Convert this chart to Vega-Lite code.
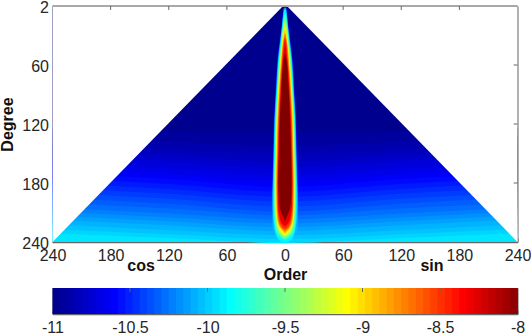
{"$schema":"https://vega.github.io/schema/vega-lite/v6.json","padding":{"left":-1.5,"top":-1,"right":0,"bottom":0},"background":"white","bounds":"flush","spacing":46,
"config":{"view":{"stroke":"#666666","strokeWidth":1},"font":"Liberation Sans","axis":{"grid":false,"labelFont":"Liberation Sans","labelFontSize":16,"labelColor":"#262626","labelOverlap":false,"labelBound":false,"labelFlush":false,"tickColor":"#666666","domainColor":"#666666","tickSize":-4,"tickWidth":1,"domainWidth":1.5,"zindex":1,"titleFont":"Liberation Sans","titleFontSize":16,"titleFontWeight":"bold","titleColor":"#111111"}},
"vconcat":[
{"width":465,"height":236,
"layer":[
{"data":{"values":[
{"v":-11,"m":-240,"d":0},{"v":-11,"m":240,"d":0},
{"v":-10.95,"m":-240,"d":124},{"v":-10.95,"m":-120,"d":128},{"v":-10.95,"m":0,"d":128},{"v":-10.95,"m":120,"d":128},{"v":-10.95,"m":240,"d":124},
{"v":-10.9,"m":-240,"d":132},{"v":-10.9,"m":-120,"d":138},{"v":-10.9,"m":0,"d":142},{"v":-10.9,"m":120,"d":138},{"v":-10.9,"m":240,"d":132},
{"v":-10.85,"m":-240,"d":140},{"v":-10.85,"m":-120,"d":146},{"v":-10.85,"m":0,"d":150},{"v":-10.85,"m":120,"d":146},{"v":-10.85,"m":240,"d":140},
{"v":-10.8,"m":-240,"d":146},{"v":-10.8,"m":-120,"d":152},{"v":-10.8,"m":0,"d":158},{"v":-10.8,"m":120,"d":152},{"v":-10.8,"m":240,"d":146},
{"v":-10.75,"m":-240,"d":152},{"v":-10.75,"m":-120,"d":158},{"v":-10.75,"m":0,"d":165},{"v":-10.75,"m":120,"d":158},{"v":-10.75,"m":240,"d":152},
{"v":-10.7,"m":-240,"d":159},{"v":-10.7,"m":-120,"d":165},{"v":-10.7,"m":0,"d":172},{"v":-10.7,"m":120,"d":165},{"v":-10.7,"m":240,"d":159},
{"v":-10.65,"m":-240,"d":165},{"v":-10.65,"m":-120,"d":171},{"v":-10.65,"m":0,"d":178},{"v":-10.65,"m":120,"d":171},{"v":-10.65,"m":240,"d":165},
{"v":-10.6,"m":-240,"d":170},{"v":-10.6,"m":-120,"d":176},{"v":-10.6,"m":0,"d":184},{"v":-10.6,"m":120,"d":176},{"v":-10.6,"m":240,"d":170},
{"v":-10.55,"m":-240,"d":175},{"v":-10.55,"m":-120,"d":181},{"v":-10.55,"m":0,"d":189},{"v":-10.55,"m":120,"d":181},{"v":-10.55,"m":240,"d":175},
{"v":-10.5,"m":-240,"d":180},{"v":-10.5,"m":-120,"d":186},{"v":-10.5,"m":0,"d":194},{"v":-10.5,"m":120,"d":186},{"v":-10.5,"m":240,"d":180},
{"v":-10.45,"m":-240,"d":185},{"v":-10.45,"m":-120,"d":191},{"v":-10.45,"m":0,"d":199},{"v":-10.45,"m":120,"d":191},{"v":-10.45,"m":240,"d":185},
{"v":-10.4,"m":-240,"d":190},{"v":-10.4,"m":-120,"d":196},{"v":-10.4,"m":0,"d":204},{"v":-10.4,"m":120,"d":196},{"v":-10.4,"m":240,"d":190},
{"v":-10.35,"m":-240,"d":195},{"v":-10.35,"m":-120,"d":201},{"v":-10.35,"m":0,"d":209},{"v":-10.35,"m":120,"d":201},{"v":-10.35,"m":240,"d":195},
{"v":-10.3,"m":-240,"d":200},{"v":-10.3,"m":-120,"d":206},{"v":-10.3,"m":0,"d":213},{"v":-10.3,"m":120,"d":206},{"v":-10.3,"m":240,"d":200},
{"v":-10.25,"m":-240,"d":205},{"v":-10.25,"m":-120,"d":211},{"v":-10.25,"m":0,"d":217},{"v":-10.25,"m":120,"d":211},{"v":-10.25,"m":240,"d":205},
{"v":-10.2,"m":-240,"d":209},{"v":-10.2,"m":-120,"d":215},{"v":-10.2,"m":0,"d":221},{"v":-10.2,"m":120,"d":215},{"v":-10.2,"m":240,"d":209},
{"v":-10.15,"m":-240,"d":213},{"v":-10.15,"m":-120,"d":219},{"v":-10.15,"m":0,"d":225},{"v":-10.15,"m":120,"d":219},{"v":-10.15,"m":240,"d":213},
{"v":-10.1,"m":-240,"d":217},{"v":-10.1,"m":-120,"d":223},{"v":-10.1,"m":0,"d":229},{"v":-10.1,"m":120,"d":223},{"v":-10.1,"m":240,"d":217},
{"v":-10.05,"m":-240,"d":222},{"v":-10.05,"m":-120,"d":228},{"v":-10.05,"m":0,"d":233},{"v":-10.05,"m":120,"d":228},{"v":-10.05,"m":240,"d":222},
{"v":-10,"m":-240,"d":227},{"v":-10,"m":-120,"d":232},{"v":-10,"m":0,"d":237},{"v":-10,"m":120,"d":232},{"v":-10,"m":240,"d":227},
{"v":-9.95,"m":-240,"d":231},{"v":-9.95,"m":-120,"d":236},{"v":-9.95,"m":0,"d":241},{"v":-9.95,"m":120,"d":236},{"v":-9.95,"m":240,"d":231}
]},
"mark":{"type":"area","orient":"vertical","interpolate":"monotone"},
"encoding":{
"x":{"field":"m","type":"quantitative","scale":{"domain":[-240,240],"nice":false,"zero":false},"axis":{"values":[-240,-180,-120,-60,0,60,120,180,240],"labelExpr":"abs(datum.value)","labelPadding":9,"title":"Order","titleY":32,"titleBaseline":"middle"}},
"y":{"field":"d","type":"quantitative","stack":null,"scale":{"domain":[0,240],"reverse":true,"nice":false,"zero":false},"axis":{"values":[0,60,120,180,240],"labelExpr":"datum.value==0?'2':datum.label","labelPadding":8,"labelOffset":1.5,"title":"Degree","titleX":-45,"titleBaseline":"middle"}},
"y2":{"datum":240},
"detail":{"field":"v"},
"color":{"field":"v","type":"quantitative","legend":null,"scale":{"domain":[-11,-10.625,-9.875,-9.125,-8.375,-8],"range":["#00008f","#0000ff","#00ffff","#ffff00","#ff0000","#800000"],"clamp":true,"interpolate":"rgb"}}
}},
{"data":{"values":[
{"v":-10.6,"d":2,"l":-1.5,"r":1.5},{"v":-10.6,"d":10,"l":-2.5,"r":2.5},{"v":-10.6,"d":20,"l":-3.5,"r":3.5},{"v":-10.6,"d":35,"l":-5.5,"r":5.5},{"v":-10.6,"d":55,"l":-8,"r":8},{"v":-10.6,"d":80,"l":-9.5,"r":9.5},{"v":-10.6,"d":115,"l":-11.5,"r":11.5},{"v":-10.6,"d":150,"l":-12.5,"r":12.5},{"v":-10.6,"d":172,"l":-13.2,"r":13.2},
{"v":-10.3,"d":2,"l":-1.2,"r":1.2},{"v":-10.3,"d":10,"l":-2.2,"r":2.2},{"v":-10.3,"d":20,"l":-3.2,"r":3.2},{"v":-10.3,"d":35,"l":-5.1,"r":5.1},{"v":-10.3,"d":55,"l":-7.5,"r":7.5},{"v":-10.3,"d":80,"l":-9,"r":9},{"v":-10.3,"d":115,"l":-11,"r":11},{"v":-10.3,"d":150,"l":-12,"r":12},{"v":-10.3,"d":180,"l":-12.9,"r":12.9},{"v":-10.3,"d":200,"l":-13.5,"r":13.5},{"v":-10.3,"d":208,"l":-13.5,"r":13.5},
{"v":-10.1,"d":2,"l":-1,"r":1},{"v":-10.1,"d":10,"l":-2,"r":2},{"v":-10.1,"d":20,"l":-3,"r":3},{"v":-10.1,"d":35,"l":-4.8,"r":4.8},{"v":-10.1,"d":55,"l":-7.2,"r":7.2},{"v":-10.1,"d":80,"l":-8.7,"r":8.7},{"v":-10.1,"d":115,"l":-10.7,"r":10.7},{"v":-10.1,"d":150,"l":-11.6,"r":11.6},{"v":-10.1,"d":180,"l":-12.5,"r":12.5},{"v":-10.1,"d":200,"l":-13,"r":13},{"v":-10.1,"d":215,"l":-13,"r":13},{"v":-10.1,"d":230,"l":-12.5,"r":12.5},{"v":-10.1,"d":233,"l":-12,"r":12},
{"v":-9.9,"d":3,"l":-0.7,"r":0.7},{"v":-9.9,"d":10,"l":-1.7,"r":1.7},{"v":-9.9,"d":20,"l":-2.7,"r":2.7},{"v":-9.9,"d":35,"l":-4.4,"r":4.4},{"v":-9.9,"d":55,"l":-6.7,"r":6.7},{"v":-9.9,"d":80,"l":-8.3,"r":8.3},{"v":-9.9,"d":115,"l":-10.3,"r":10.3},{"v":-9.9,"d":150,"l":-11.2,"r":11.2},{"v":-9.9,"d":180,"l":-12,"r":12},{"v":-9.9,"d":200,"l":-12.2,"r":12.2},{"v":-9.9,"d":215,"l":-12,"r":12},{"v":-9.9,"d":225,"l":-11,"r":11},{"v":-9.9,"d":232,"l":-9.5,"r":9.5},{"v":-9.9,"d":238,"l":-6,"r":6},{"v":-9.9,"d":240,"l":-3,"r":3},
{"v":-9.7,"d":8,"l":0,"r":0},{"v":-9.7,"d":10,"l":-1,"r":1},{"v":-9.7,"d":20,"l":-2.3,"r":2.3},{"v":-9.7,"d":35,"l":-4,"r":4},{"v":-9.7,"d":55,"l":-6.2,"r":6.2},{"v":-9.7,"d":80,"l":-7.8,"r":7.8},{"v":-9.7,"d":115,"l":-9.8,"r":9.8},{"v":-9.7,"d":150,"l":-10.6,"r":10.6},{"v":-9.7,"d":180,"l":-11.4,"r":11.4},{"v":-9.7,"d":200,"l":-11.4,"r":11.4},{"v":-9.7,"d":215,"l":-11,"r":11},{"v":-9.7,"d":225,"l":-10,"r":10},{"v":-9.7,"d":232,"l":-7.5,"r":7.5},{"v":-9.7,"d":236,"l":-3.5,"r":3.5},{"v":-9.7,"d":238,"l":0,"r":0},
{"v":-9.5,"d":12,"l":0,"r":0},{"v":-9.5,"d":20,"l":-1.8,"r":1.8},{"v":-9.5,"d":35,"l":-3.5,"r":3.5},{"v":-9.5,"d":55,"l":-5.7,"r":5.7},{"v":-9.5,"d":80,"l":-7.4,"r":7.4},{"v":-9.5,"d":115,"l":-9.3,"r":9.3},{"v":-9.5,"d":150,"l":-10.2,"r":10.2},{"v":-9.5,"d":180,"l":-10.9,"r":10.9},{"v":-9.5,"d":200,"l":-10.8,"r":10.8},{"v":-9.5,"d":215,"l":-10,"r":10},{"v":-9.5,"d":225,"l":-8.7,"r":8.7},{"v":-9.5,"d":232,"l":-5.5,"r":5.5},{"v":-9.5,"d":236,"l":0,"r":0},
{"v":-9.3,"d":15,"l":0,"r":0},{"v":-9.3,"d":20,"l":-1.3,"r":1.3},{"v":-9.3,"d":35,"l":-3,"r":3},{"v":-9.3,"d":55,"l":-5.1,"r":5.1},{"v":-9.3,"d":80,"l":-6.9,"r":6.9},{"v":-9.3,"d":115,"l":-8.8,"r":8.8},{"v":-9.3,"d":150,"l":-9.6,"r":9.6},{"v":-9.3,"d":180,"l":-10.2,"r":10.2},{"v":-9.3,"d":200,"l":-10.2,"r":10.2},{"v":-9.3,"d":215,"l":-9.3,"r":9.3},{"v":-9.3,"d":225,"l":-7.5,"r":7.5},{"v":-9.3,"d":232,"l":-3.5,"r":3.5},{"v":-9.3,"d":234.5,"l":0,"r":0},
{"v":-9.1,"d":20,"l":0,"r":0},{"v":-9.1,"d":35,"l":-2.5,"r":2.5},{"v":-9.1,"d":55,"l":-4.6,"r":4.6},{"v":-9.1,"d":80,"l":-6.3,"r":6.3},{"v":-9.1,"d":115,"l":-8.2,"r":8.2},{"v":-9.1,"d":150,"l":-9,"r":9},{"v":-9.1,"d":180,"l":-9.5,"r":9.5},{"v":-9.1,"d":200,"l":-9.5,"r":9.5},{"v":-9.1,"d":215,"l":-8.7,"r":8.7},{"v":-9.1,"d":225,"l":-6.3,"r":6.3},{"v":-9.1,"d":231,"l":-2.5,"r":2.5},{"v":-9.1,"d":233,"l":0,"r":0},
{"v":-8.9,"d":24,"l":0,"r":0},{"v":-8.9,"d":35,"l":-2,"r":2},{"v":-8.9,"d":55,"l":-4,"r":4},{"v":-8.9,"d":80,"l":-5.8,"r":5.8},{"v":-8.9,"d":115,"l":-7.7,"r":7.7},{"v":-8.9,"d":150,"l":-8.5,"r":8.5},{"v":-8.9,"d":180,"l":-9.1,"r":9.1},{"v":-8.9,"d":200,"l":-8.9,"r":8.9},{"v":-8.9,"d":215,"l":-8.2,"r":8.2},{"v":-8.9,"d":225,"l":-5.5,"r":5.5},{"v":-8.9,"d":231,"l":0,"r":0},
{"v":-8.7,"d":28,"l":0,"r":0},{"v":-8.7,"d":35,"l":-1.5,"r":1.5},{"v":-8.7,"d":55,"l":-3.5,"r":3.5},{"v":-8.7,"d":80,"l":-5.3,"r":5.3},{"v":-8.7,"d":115,"l":-7.2,"r":7.2},{"v":-8.7,"d":150,"l":-8,"r":8},{"v":-8.7,"d":180,"l":-8.6,"r":8.6},{"v":-8.7,"d":200,"l":-8.4,"r":8.4},{"v":-8.7,"d":215,"l":-7.5,"r":7.5},{"v":-8.7,"d":225,"l":-4.5,"r":4.5},{"v":-8.7,"d":229,"l":0,"r":0},
{"v":-8.5,"d":32,"l":0,"r":0},{"v":-8.5,"d":35,"l":-1,"r":1},{"v":-8.5,"d":55,"l":-2.8,"r":2.8},{"v":-8.5,"d":80,"l":-4.7,"r":4.7},{"v":-8.5,"d":115,"l":-6.5,"r":6.5},{"v":-8.5,"d":150,"l":-7.4,"r":7.4},{"v":-8.5,"d":180,"l":-8,"r":8},{"v":-8.5,"d":200,"l":-7.8,"r":7.8},{"v":-8.5,"d":215,"l":-6.6,"r":6.6},{"v":-8.5,"d":225,"l":-3,"r":3},{"v":-8.5,"d":227,"l":0,"r":0},
{"v":-8.3,"d":35,"l":0,"r":0},{"v":-8.3,"d":55,"l":-2.4,"r":2.4},{"v":-8.3,"d":80,"l":-4.1,"r":4.1},{"v":-8.3,"d":115,"l":-5.9,"r":5.9},{"v":-8.3,"d":150,"l":-6.8,"r":6.8},{"v":-8.3,"d":180,"l":-7.4,"r":7.4},{"v":-8.3,"d":200,"l":-7.2,"r":7.2},{"v":-8.3,"d":215,"l":-5.5,"r":5.5},{"v":-8.3,"d":222,"l":-2.5,"r":2.5},{"v":-8.3,"d":224,"l":0,"r":0},
{"v":-8,"d":48,"l":0,"r":0},{"v":-8,"d":55,"l":-1.5,"r":1.5},{"v":-8,"d":80,"l":-3.5,"r":3.5},{"v":-8,"d":115,"l":-5.3,"r":5.3},{"v":-8,"d":150,"l":-6.2,"r":6.2},{"v":-8,"d":180,"l":-6.8,"r":6.8},{"v":-8,"d":200,"l":-6,"r":6},{"v":-8,"d":210,"l":-3.8,"r":3.8},{"v":-8,"d":215,"l":-1.5,"r":1.5},{"v":-8,"d":219,"l":0,"r":0}
]},
"mark":{"type":"area","orient":"horizontal","interpolate":"monotone"},
"encoding":{
"y":{"field":"d","type":"quantitative"},
"x":{"field":"l","type":"quantitative","stack":null},
"x2":{"field":"r"},
"detail":{"field":"v"},
"color":{"field":"v","type":"quantitative","legend":null}
}},
{"data":{"values":[{"s":"a","m":-240,"d":240},{"s":"a","m":-2,"d":0},{"s":"b","m":2,"d":0},{"s":"b","m":240,"d":240}]},
"mark":{"type":"area","orient":"vertical","fill":"white"},
"encoding":{
"x":{"field":"m","type":"quantitative"},
"y":{"field":"d","type":"quantitative","stack":null},
"y2":{"datum":0},
"detail":{"field":"s"}
}},
{"data":{"values":[{"m":-240,"n":240,"d":0}]},
"mark":{"type":"rule","stroke":"#a8a8a8","strokeWidth":2},
"encoding":{"x":{"field":"m","type":"quantitative"},"x2":{"field":"n"},"y":{"field":"d","type":"quantitative"}}},
{"data":{"values":[{"m":-180,"d":0,"e":4},{"m":-120,"d":0,"e":4},{"m":-60,"d":0,"e":4},{"m":0,"d":0,"e":4},{"m":60,"d":0,"e":4},{"m":120,"d":0,"e":4},{"m":180,"d":0,"e":4}]},
"mark":{"type":"rule","stroke":"#666666"},
"encoding":{"x":{"field":"m","type":"quantitative"},"y":{"field":"d","type":"quantitative"},"y2":{"field":"e"}}},
{"data":{"values":[{"m":240,"n":236,"d":60},{"m":240,"n":236,"d":120},{"m":240,"n":236,"d":180}]},
"mark":{"type":"rule","stroke":"#666666"},
"encoding":{"x":{"field":"m","type":"quantitative"},"x2":{"field":"n"},"y":{"field":"d","type":"quantitative"}}},
{"data":{"values":[{"t":"cos","m":-148.6,"d":264.5},{"t":"sin","m":151.7,"d":264.5}]},
"mark":{"type":"text","fontSize":16,"fontWeight":"bold","font":"Liberation Sans","color":"#111111","baseline":"middle","clip":false},
"encoding":{
"x":{"field":"m","type":"quantitative"},
"y":{"field":"d","type":"quantitative"},
"text":{"field":"t"}
}}
]},
{"width":465,"height":26,
"layer":[
{"data":{"values":[{"a":-11},{"a":-10.953},{"a":-10.906},{"a":-10.859},{"a":-10.813},{"a":-10.766},{"a":-10.719},{"a":-10.672},{"a":-10.625},{"a":-10.578},{"a":-10.531},{"a":-10.484},{"a":-10.438},{"a":-10.391},{"a":-10.344},{"a":-10.297},{"a":-10.25},{"a":-10.203},{"a":-10.156},{"a":-10.109},{"a":-10.063},{"a":-10.016},{"a":-9.969},{"a":-9.922},{"a":-9.875},{"a":-9.828},{"a":-9.781},{"a":-9.734},{"a":-9.688},{"a":-9.641},{"a":-9.594},{"a":-9.547},{"a":-9.5},{"a":-9.453},{"a":-9.406},{"a":-9.359},{"a":-9.313},{"a":-9.266},{"a":-9.219},{"a":-9.172},{"a":-9.125},{"a":-9.078},{"a":-9.031},{"a":-8.984},{"a":-8.938},{"a":-8.891},{"a":-8.844},{"a":-8.797},{"a":-8.75},{"a":-8.703},{"a":-8.656},{"a":-8.609},{"a":-8.563},{"a":-8.516},{"a":-8.469},{"a":-8.422},{"a":-8.375},{"a":-8.328},{"a":-8.281},{"a":-8.234},{"a":-8.188},{"a":-8.141},{"a":-8.094},{"a":-8.047}]},
"mark":{"type":"rect"},
"encoding":{
"x":{"field":"a","type":"quantitative","scale":{"domain":[-11,-8],"nice":false,"zero":false},"axis":{"values":[-11,-10.5,-10,-9.5,-9,-8.5,-8],"labelExpr":"''+datum.value","labelPadding":9,"title":null}},
"x2":{"datum":-8},
"color":{"field":"a","type":"quantitative","legend":null,"scale":{"domain":[-11,-10.625,-9.875,-9.125,-8.375,-8],"range":["#00008f","#0000ff","#00ffff","#ffff00","#ff0000","#800000"],"clamp":true,"interpolate":"rgb"}}
}},
{"data":{"values":[{"a":-10.5,"p":0,"q":0.15},{"a":-10,"p":0,"q":0.15},{"a":-9.5,"p":0,"q":0.15},{"a":-9,"p":0,"q":0.15},{"a":-8.5,"p":0,"q":0.15}]},
"mark":{"type":"rule","stroke":"#666666"},
"encoding":{"x":{"field":"a","type":"quantitative"},"y":{"field":"p","type":"quantitative","axis":null,"scale":{"domain":[0,1],"reverse":true,"nice":false}},"y2":{"field":"q"}}}
]}
]}
